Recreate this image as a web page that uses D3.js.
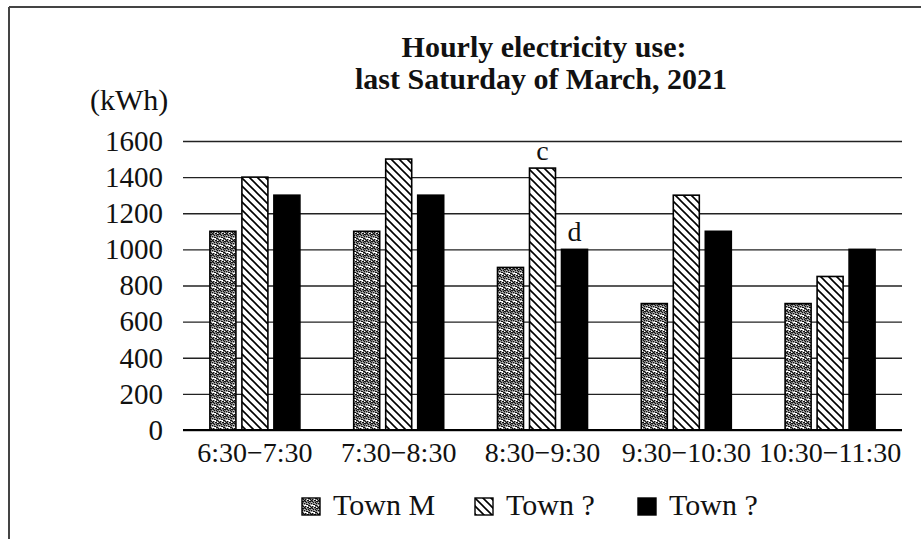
<!DOCTYPE html>
<html>
<head>
<meta charset="utf-8">
<script src="https://cdn.jsdelivr.net/npm/d3@7"></script>
<style>
  body { margin: 0; background: #fff; }
  text { font-family: "Liberation Serif", "DejaVu Serif", serif; fill: #111; }
</style>
</head>
<body>
<svg id="chart" width="921" height="539"></svg>
<script>
// data
var categories = ["6:30\u22127:30", "7:30\u22128:30", "8:30\u22129:30", "9:30\u221210:30", "10:30\u221211:30"];
var seriesNames = ["Town M", "Town ?", "Town ?"];
var townM = [1100, 1100, 900, 700, 700];
var townHatch = [1400, 1500, 1450, 1300, 850];
var townBlack = [1300, 1300, 1000, 1100, 1000];
var yTicks = [0, 200, 400, 600, 800, 1000, 1200, 1400, 1600];
var barNotes = [{cat: 2, series: 1, label: "c"}, {cat: 2, series: 2, label: "d"}];

var allSeries = [townM, townHatch, townBlack];
var fills = ["url(#dots)", "url(#hatch)", "#000"];

var svg = d3.select("#chart");

// fill patterns
var defs = svg.append("defs");
var dots = defs.append("pattern").attr("id", "dots")
  .attr("patternUnits", "userSpaceOnUse").attr("width", 7).attr("height", 7);
dots.append("rect").attr("width", 7).attr("height", 7).attr("fill", "#fff");
var dotPos = [[0,0],[3,1],[1,3],[4,4],[2,5],[5,2],[0,5],[3,3],[6,0],[5,6],[1,1],[6,4],[2,2],[4,6],[6,2],[0,3]];
dots.selectAll("rect.d").data(dotPos).enter().append("rect")
  .attr("x", function(d) { return d[0]; }).attr("y", function(d) { return d[1]; })
  .attr("width", 1.5).attr("height", 1.5).attr("fill", "#111");

var hatch = defs.append("pattern").attr("id", "hatch")
  .attr("patternUnits", "userSpaceOnUse").attr("width", 8).attr("height", 8);
hatch.append("rect").attr("width", 8).attr("height", 8).attr("fill", "#fff");
hatch.append("path").attr("d", "M-2,-2 L10,10 M-2,6 L2,10 M6,-2 L10,2")
  .attr("stroke", "#000").attr("stroke-width", 1.6);

// outer frame (top and left only)
svg.append("line").attr("x1", 9).attr("x2", 921).attr("y1", 7).attr("y2", 7)
  .attr("stroke", "#444").attr("stroke-width", 2);
svg.append("line").attr("x1", 9).attr("x2", 9).attr("y1", 7).attr("y2", 539)
  .attr("stroke", "#444").attr("stroke-width", 2);

var x0 = d3.scaleBand().domain(d3.range(categories.length)).range([183, 902]);
var x1 = d3.scaleBand().domain([0, 1, 2]).range([0, 90]).paddingInner(0.1875);
var y = d3.scaleLinear().domain([0, 1600]).range([430, 141]);

function barX(c, s) { return x0(c) + x0.bandwidth() / 2 - 45 + x1(s); }

// gridlines + y labels
var yAxis = d3.axisLeft(y).tickValues(yTicks).tickSize(-(902 - 183)).tickPadding(20).tickFormat(d3.format("d"));
var gy = svg.append("g").attr("transform", "translate(183,0)").call(yAxis);
gy.select(".domain").remove();
gy.selectAll(".tick line").attr("stroke", "#222").attr("stroke-width", 1.3);
gy.selectAll(".tick text").attr("font-size", 29).attr("font-family", "Liberation Serif").attr("fill", "#111");

// bars
allSeries.forEach(function(vals, s) {
  svg.append("g").selectAll("rect").data(vals).enter().append("rect")
    .attr("x", function(d, i) { return barX(i, s); })
    .attr("y", function(d) { return y(d); })
    .attr("width", x1.bandwidth())
    .attr("height", function(d) { return y(0) - y(d); })
    .attr("fill", fills[s])
    .attr("stroke", "#000").attr("stroke-width", 1.6);
});

// baseline
svg.append("line").attr("x1", 183).attr("x2", 902).attr("y1", y(0)).attr("y2", y(0))
  .attr("stroke", "#000").attr("stroke-width", 2);

// x labels
var xAxis = d3.axisBottom(x0).tickSize(0).tickFormat(function(i) { return categories[i]; });
var gx = svg.append("g").attr("transform", "translate(0," + y(0) + ")").call(xAxis);
gx.select(".domain").remove();
gx.selectAll(".tick text").attr("font-size", 28).attr("font-family", "Liberation Serif").attr("fill", "#111")
  .attr("y", 32).attr("dy", 0);

// bar notes
svg.selectAll("text.note").data(barNotes).enter().append("text")
  .attr("class", "note")
  .attr("x", function(d) { return barX(d.cat, d.series) + x1.bandwidth() / 2; })
  .attr("y", function(d) { return y(allSeries[d.series][d.cat]) - 8; })
  .attr("text-anchor", "middle").attr("font-size", 28)
  .text(function(d) { return d.label; });

// title and unit
svg.append("text").attr("x", 544).attr("y", 57).attr("text-anchor", "middle")
  .attr("font-size", 30).attr("font-weight", "bold").text("Hourly electricity use:");
svg.append("text").attr("x", 541).attr("y", 89).attr("text-anchor", "middle")
  .attr("font-size", 30).attr("font-weight", "bold").text("last Saturday of March, 2021");
svg.append("text").attr("x", 90).attr("y", 110).attr("font-size", 30).text("(kWh)");

// legend
var legX = [302, 475, 638];
var leg = svg.append("g").selectAll("g").data(seriesNames).enter().append("g")
  .attr("transform", function(d, i) { return "translate(" + legX[i] + ",498)"; });
leg.append("rect").attr("width", 18).attr("height", 17)
  .attr("fill", function(d, i) { return fills[i]; })
  .attr("stroke", "#000").attr("stroke-width", 1.4);
leg.append("text").attr("x", 31).attr("y", 17).attr("font-size", 30)
  .text(function(d) { return d; });
</script>
</body>
</html>
